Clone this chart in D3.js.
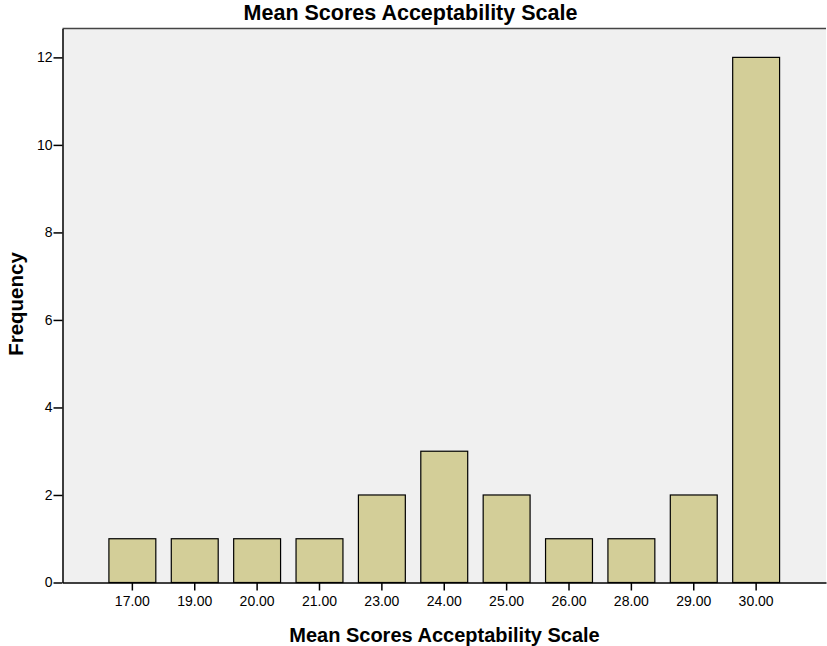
<!DOCTYPE html>
<html>
<head>
<meta charset="utf-8">
<script src="https://cdn.jsdelivr.net/npm/d3@7"></script>
<style>
  body { margin: 0; background: #fff; }
  text { font-family: Arial, "Liberation Sans", sans-serif; fill: #000; }
</style>
</head>
<body>
<div id="chart"></div>
<script>
// mean score categories and their frequencies
const categories = ['17.00', '19.00', '20.00', '21.00', '23.00', '24.00', '25.00', '26.00', '28.00', '29.00', '30.00'];
const frequencies = [1, 1, 1, 1, 2, 3, 2, 1, 1, 2, 12];
const yTicks = [0, 2, 4, 6, 8, 10, 12];

const width = 827;
const height = 646;
const margin = { top: 28.5, right: 1, bottom: 63.5, left: 62.5 };
const innerW = width - margin.left - margin.right;
const innerH = height - margin.top - margin.bottom;

const svg = d3.select('#chart')
   .append('svg')
   .attr('width', width)
   .attr('height', height);

const chart = svg.append('g')
   .attr('transform', `translate(${margin.left},${margin.top})`);

const xScale = d3.scaleBand()
   .domain(categories)
   .range([0, innerW])
   .paddingInner(0.248)
   .paddingOuter(0.744);

const yScale = d3.scaleLinear()
   .domain([0, 12.66])
   .range([innerH, 0]);

// plot background
chart.append('rect')
   .attr('width', innerW)
   .attr('height', innerH)
   .attr('fill', '#f0f0f0');

// top frame line
chart.append('line')
   .attr('x1', 0).attr('x2', innerW)
   .attr('y1', 0).attr('y2', 0)
   .attr('stroke', '#444')
   .attr('stroke-width', 1.5);

chart.selectAll('.bar')
   .data(frequencies)
   .enter()
   .append('rect')
   .classed('bar', true)
   .attr('x', (d, i) => xScale(categories[i]))
   .attr('y', d => yScale(d))
   .attr('width', xScale.bandwidth())
   .attr('height', d => innerH - yScale(d))
   .attr('fill', '#d3ce98')
   .attr('stroke', '#000')
   .attr('stroke-width', 1.2);

const xAxis = d3.axisBottom(xScale)
   .tickSize(8)
   .tickSizeOuter(0)
   .tickPadding(6);

const gx = chart.append('g')
   .attr('transform', `translate(0,${innerH})`)
   .call(xAxis);
gx.select('.domain').attr('stroke', '#000').attr('stroke-width', 1.5);
gx.selectAll('.tick line').attr('stroke', '#000').attr('stroke-width', 1.5);
gx.selectAll('.tick text').attr('font-size', 14).style('font-size', '14px');

const yAxis = d3.axisLeft(yScale)
   .tickValues(yTicks)
   .tickSize(9)
   .tickSizeOuter(0)
   .tickPadding(1);

const gy = chart.append('g')
   .call(yAxis);
gy.select('.domain').attr('stroke', '#000').attr('stroke-width', 1.5);
gy.selectAll('.tick line').attr('stroke', '#000').attr('stroke-width', 1.5);
gy.selectAll('.tick text').attr('font-size', 14).style('font-size', '14px');

// titles
svg.append('text')
   .attr('x', 410.5)
   .attr('y', 19.5)
   .style('font-size', '21.5px')
   .style('font-weight', 'bold')
   .style('text-anchor', 'middle')
   .text('Mean Scores Acceptability Scale');

svg.append('text')
   .attr('x', 444.5)
   .attr('y', 641.5)
   .style('font-size', '20px')
   .style('font-weight', 'bold')
   .style('text-anchor', 'middle')
   .text('Mean Scores Acceptability Scale');

svg.append('text')
   .attr('transform', `translate(23,304) rotate(-90)`)
   .style('font-size', '20.5px')
   .style('font-weight', 'bold')
   .style('text-anchor', 'middle')
   .text('Frequency');
</script>
</body>
</html>
